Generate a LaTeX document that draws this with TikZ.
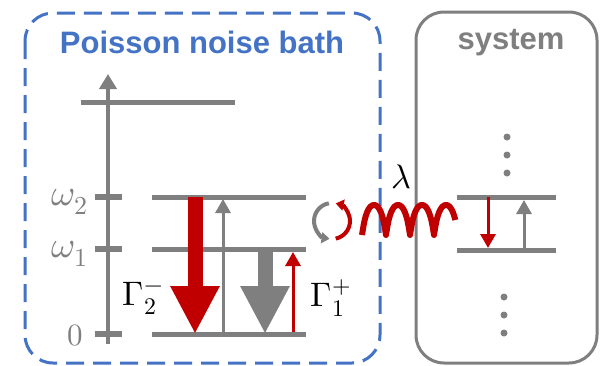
\documentclass[tikz,border=0pt]{standalone}
\usepackage{fontspec}
\usepackage{unicode-math}
\newfontfamily\headfont{Liberation Sans}
\usepackage{xcolor}
\usepackage{tikz}
\usetikzlibrary{arrows.meta,positioning}
\definecolor{bathblue}{HTML}{4472C4}
\definecolor{darkred}{HTML}{C00000}
\definecolor{levelgray}{HTML}{7F7F7F}

\begin{document}
\begin{tikzpicture}[x=1pt,y=-1pt,
  level/.style={levelgray,line width=5pt},
  thinarrow/.style={line width=3pt,-{Triangle[width=15pt,length=14pt]}},
  fatarrow/.style={line width=15pt,-{Triangle[width=46pt,length=48pt]}},
  turn/.style={line width=4pt,-{Triangle[width=11pt,length=8pt]}},
  heading/.style={font=\headfont\bfseries\fontsize{31}{31}\selectfont},
  label/.style={font=\fontsize{34}{34}\selectfont,inner sep=0pt},
  axislabel/.style={text=levelgray,font=\fontsize{37}{37}\selectfont,inner sep=0pt}
]
\useasboundingbox (0,0) rectangle (600,365);
% frames
\draw[bathblue,line width=3pt,dash pattern=on 18pt off 9pt,rounded corners=28pt]
  (25,13) rectangle (380,363);
\draw[levelgray,line width=3pt,rounded corners=28pt] (416,12) rectangle (597,363);
\node[heading,text=bathblue] (bath) at (202,42) {Poisson noise bath};
\node[heading,text=levelgray] (sys) at (511,43) {system};

% energy axis
\coordinate (axbot) at (108,344);
\coordinate (axtop) at (108,74);
\draw[levelgray,line width=4pt,-{Triangle[width=17pt,length=15pt]}] (axbot) -- (axtop);
\draw[level] (81,102) -- (235,102);
\foreach \y in {197,249,334}
  \draw[level,line width=6pt] (95,\y) -- (122,\y);
\node[axislabel] (w2) at (70,202) {$\omega_2$};
\node[axislabel] (w1) at (70,254) {$\omega_1$};
\node[axislabel,font=\fontsize{31}{31}\selectfont] (w0) at (75,336) {$0$};

% bath levels
\draw[level] (152,197) -- (306,197);
\draw[level] (152,249) -- (306,249);
\draw[level] (152,334) -- (306,334);
\coordinate (r2top) at (195,197);
\coordinate (r2bot) at (195,334);
\coordinate (g2bot) at (223,332);
\coordinate (g2top) at (223,199);
\coordinate (g1top) at (265,249);
\coordinate (g1bot) at (265,334);
\coordinate (r1bot) at (293,332);
\coordinate (r1top) at (293,252);
\draw[fatarrow,darkred] (r2top) -- (r2bot);
\draw[thinarrow,levelgray] (g2bot) -- (g2top);
\draw[fatarrow,levelgray] (g1top) -- (g1bot);
\draw[thinarrow,darkred] (r1bot) -- (r1top);
\node[label] (gm) at (143,298) {$\Gamma_2^-$};
\node[label] (gp) at (331,298) {$\Gamma_1^+$};

% exchange
\coordinate (swap) at (332,221);
\draw[turn,levelgray] ([shift={(-100:18)}]swap) arc (-100:-262:18);
\draw[turn,darkred] ([shift={(-282:18)}]swap) arc (-282:-438:18);
\coordinate (cstart) at (362,235);
\coordinate (cend) at (454,235);
\draw[darkred,line width=6pt,line join=round,shift={(cstart)}]
  plot[domain=0:92,samples=185]
  ({\x-1.5*sin(\x*15)},{-30*abs(sin(\x*7.5))});
\node[label] (lam) at (401,177) {$\lambda$};

% system levels
\draw[level] (457,197) -- (556,197);
\draw[level] (457,250) -- (556,250);
\coordinate (sdtop) at (488,197);
\coordinate (sdbot) at (488,248);
\coordinate (subot) at (524,250);
\coordinate (sutop) at (524,200);
\draw[thinarrow,darkred] (sdtop) -- (sdbot);
\draw[thinarrow,levelgray] (subot) -- (sutop);
\foreach \y in {137,155,173}
  \fill[levelgray] (507,\y) circle (3.5pt);
\foreach \y in {297,315,333}
  \fill[levelgray] (504,\y) circle (3.5pt);
\end{tikzpicture}
\end{document}
